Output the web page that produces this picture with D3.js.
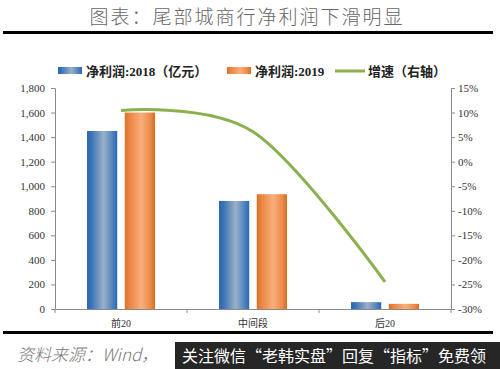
<!DOCTYPE html>
<html>
<head>
<meta charset="utf-8">
<script src="https://cdn.jsdelivr.net/npm/d3@7"></script>
<style>
  body { margin: 0; background: #fff; }
  svg { display: block; }
</style>
</head>
<body>
<script>
// data
var categories = ['前20', '中间段', '后20'];
var profit2018 = [1450, 880, 56];
var profit2019 = [1600, 935, 42];
var growth     = [10.4, 6.1, -24.5];
var series     = ['2018', '2019'];
var leftTicks  = [0, 200, 400, 600, 800, 1000, 1200, 1400, 1600, 1800];
var rightTicks = [15, 10, 5, 0, -5, -10, -15, -20, -25, -30];

const W = 500, H = 369;
const X0 = 55, X1 = 451, Y0 = 309, Y1 = 88;
const SERIF = '"Liberation Serif", "DejaVu Serif", "Noto Sans CJK SC", serif';
const CJK = '"Noto Sans CJK SC", sans-serif';

var svg = d3.select('body').append('svg')
  .attr('width', W)
  .attr('height', H);

// gradients for the bars
var defs = svg.append('defs');
function addGrad(id, stops) {
  var g = defs.append('linearGradient').attr('id', id)
    .attr('x1', '0%').attr('x2', '100%').attr('y1', '0%').attr('y2', '0%');
  stops.forEach(function (s) {
    g.append('stop').attr('offset', s[0]).attr('stop-color', s[1]);
  });
}
addGrad('gBlue', [['0%', '#2a66ae'], ['15%', '#3a73b6'], ['55%', '#9bb0c8'], ['85%', '#4e82bd'], ['100%', '#2a66ae']]);
addGrad('gOrange', [['0%', '#de6f22'], ['15%', '#ea8543'], ['55%', '#fbae7a'], ['85%', '#ec8a4a'], ['100%', '#dc6b1e']]);

// title
svg.append('text')
  .attr('x', 247).attr('y', 24)
  .attr('text-anchor', 'middle')
  .attr('font-family', CJK)
  .attr('font-weight', 300)
  .attr('font-size', 19)
  .attr('letter-spacing', 2)
  .attr('fill', '#666')
  .text('图表：尾部城商行净利润下滑明显');

svg.append('rect').attr('x', 3).attr('y', 31).attr('width', 490).attr('height', 3).attr('fill', '#000');
svg.append('rect').attr('x', 3).attr('y', 331).attr('width', 490).attr('height', 3).attr('fill', '#000');

// scales
var x = d3.scaleBand().domain(categories).range([X0, X1]).padding(0);
var xs = d3.scaleBand().domain(series).range([32, 100]).paddingInner(0.2);
var yL = d3.scaleLinear().domain([0, 1800]).range([Y0, Y1]);
var yR = d3.scaleLinear().domain([-30, 15]).range([Y0, Y1]);

// bars
var rows = categories.map(function (c, i) {
  return { cat: c, vals: [profit2018[i], profit2019[i]] };
});
var grads = ['url(#gBlue)', 'url(#gOrange)'];
var groups = svg.append('g').selectAll('g').data(rows).join('g')
  .attr('transform', function (d) { return 'translate(' + x(d.cat) + ',0)'; });
groups.selectAll('rect')
  .data(function (d) { return d.vals.map(function (v, j) { return { s: series[j], v: v, j: j }; }); })
  .join('rect')
  .attr('x', function (d) { return xs(d.s); })
  .attr('width', xs.bandwidth())
  .attr('y', function (d) { return yL(d.v); })
  .attr('height', function (d) { return Y0 - yL(d.v); })
  .attr('fill', function (d) { return grads[d.j]; });

// axes
var axisColor = '#8a8a8a';
var gl = svg.append('g').attr('transform', 'translate(' + X0 + ',0)')
  .call(d3.axisLeft(yL).tickValues(leftTicks).tickSize(4).tickPadding(6).tickFormat(d3.format(',')));
var gr = svg.append('g').attr('transform', 'translate(' + X1 + ',0)')
  .call(d3.axisRight(yR).tickValues(rightTicks).tickSize(4).tickPadding(3).tickFormat(function (d) { return d + '%'; }));
var gx = svg.append('g').attr('transform', 'translate(0,' + Y0 + ')')
  .call(d3.axisBottom(x).tickSize(0).tickPadding(11));
// category boundary ticks
gx.selectAll('.btick').data([X0, X0 + x.step(), X0 + 2 * x.step(), X1]).join('line')
  .attr('class', 'btick')
  .attr('x1', function (d) { return d; }).attr('x2', function (d) { return d; })
  .attr('y1', 0).attr('y2', 4)
  .attr('stroke', axisColor);

[gl, gr, gx].forEach(function (g) {
  g.selectAll('path.domain').attr('stroke', axisColor);
  g.selectAll('.tick line').attr('stroke', axisColor);
  g.selectAll('text')
    .attr('font-family', SERIF)
    .attr('font-size', 11)
    .attr('fill', '#333');
});
gx.selectAll('text').attr('font-size', 10).attr('font-family', '"Liberation Serif", "Noto Sans CJK SC", serif');

// growth line (right axis), smoothed like the original
var line = d3.line()
  .x(function (d, i) { return x(categories[i]) + x.bandwidth() / 2; })
  .y(function (d) { return yR(d); })
  .curve(d3.curveCatmullRom.alpha(0));
svg.append('path')
  .datum(growth)
  .attr('d', line)
  .attr('fill', 'none')
  .attr('stroke', '#8bb04f')
  .attr('stroke-width', 3);

// legend
var lg = svg.append('g').attr('font-family', '"Liberation Serif", "Noto Sans CJK SC", serif')
  .attr('font-weight', 'bold').attr('font-size', 13).attr('fill', '#222');
lg.append('rect').attr('x', 58).attr('y', 67).attr('width', 24).attr('height', 7).attr('fill', 'url(#gBlue)');
lg.append('text').attr('x', 86).attr('y', 76).text('净利润:2018（亿元）');
lg.append('rect').attr('x', 227).attr('y', 67).attr('width', 24).attr('height', 7).attr('fill', 'url(#gOrange)');
lg.append('text').attr('x', 255).attr('y', 76).text('净利润:2019');
lg.append('line').attr('x1', 335).attr('x2', 365).attr('y1', 71).attr('y2', 71)
  .attr('stroke', '#8bb04f').attr('stroke-width', 3);
lg.append('text').attr('x', 368).attr('y', 76).text('增速（右轴）');

// footer
svg.append('text')
  .attr('x', 17).attr('y', 361)
  .attr('font-family', CJK)
  .attr('font-style', 'italic')
  .attr('font-weight', 300)
  .attr('font-size', 17)
  .attr('fill', '#777')
  .text('资料来源：Wind，');
svg.append('rect').attr('x', 175).attr('y', 342).attr('width', 325).attr('height', 27).attr('fill', '#262626');
svg.append('text')
  .attr('x', 182).attr('y', 362)
  .attr('font-family', CJK)
  .attr('font-size', 16)
  .attr('fill', '#fff')
  .text('关注微信“老韩实盘”回复“指标”免费领');
</script>
</body>
</html>
